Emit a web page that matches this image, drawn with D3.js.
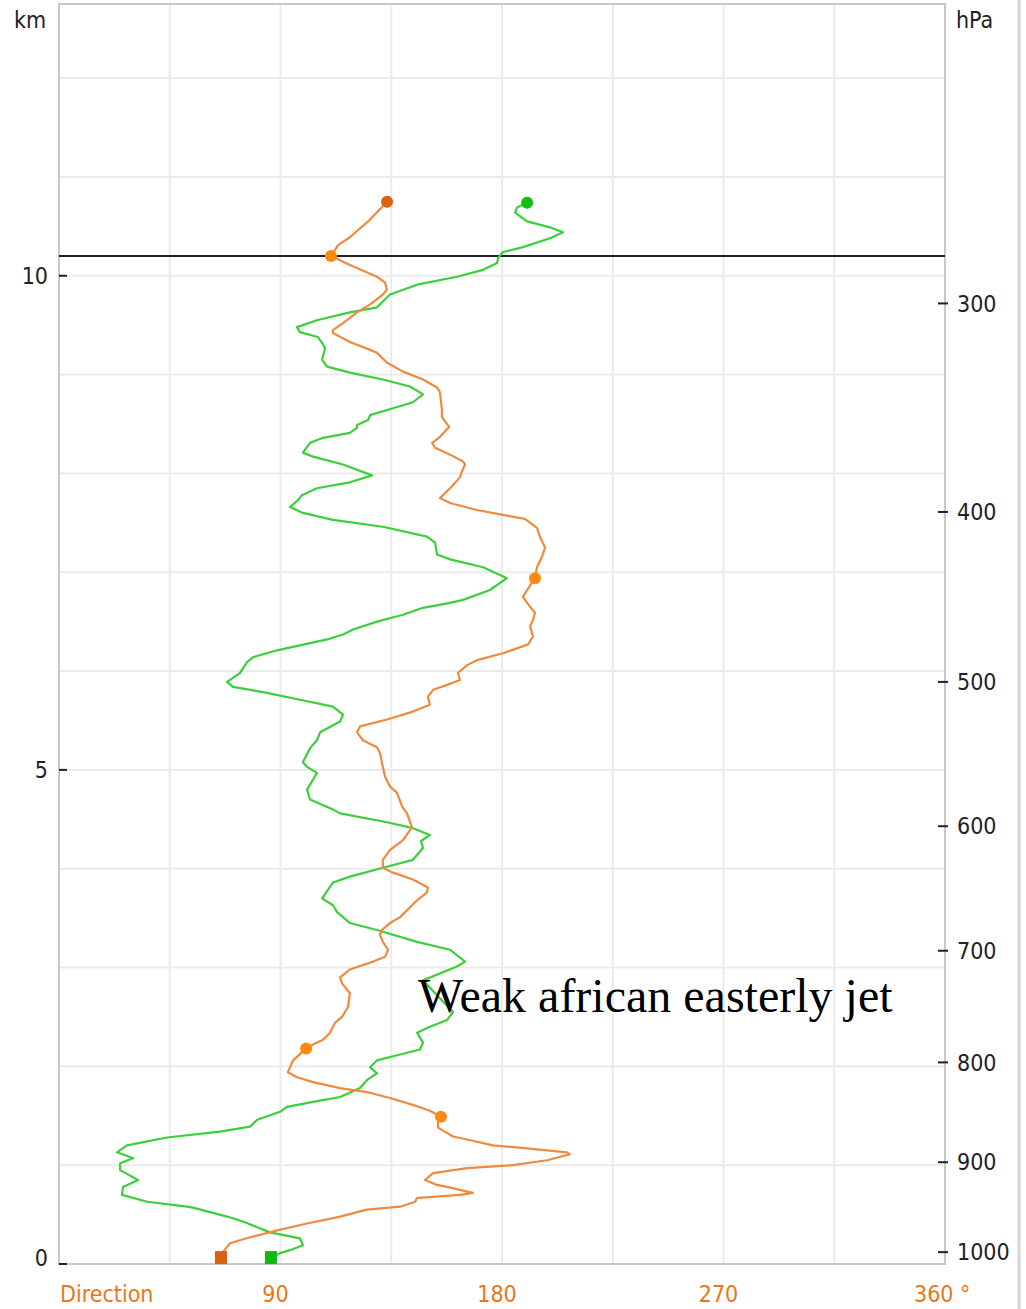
<!DOCTYPE html>
<html>
<head>
<meta charset="utf-8">
<script src="https://cdn.jsdelivr.net/npm/d3@7"></script>
<style>
  body { margin: 0; background: #fff; }
  svg { display: block; }
  .lbl { font-family: "DejaVu Sans Condensed", "DejaVu Sans", sans-serif; font-stretch: condensed; font-size: 23px; fill: #222; }
</style>
</head>
<body>
<svg width="1026" height="1309"></svg>
<script>
/********** Data **********/
// wind direction (deg) against height (km)
var orangeDir = [133.3,125.6,118.2,113.4,110.5,118.2,129.2,132.5,133.2,131.6,126.4,121.1,115.4,111.3,111.3,118.2,126.4,129.2,133.3,139.8,
  147.9,153.6,154.8,155.6,155.6,158.5,154.8,151.6,152.8,158.9,164.2,165.0,163.7,162.9,158.9,154.8,158.9,169.8,180.4,189.3,
  194.2,195.4,197.5,196.3,194.2,193.4,190.2,188.5,190.2,193.4,192.6,191.4,192.6,190.6,180.4,169.8,165.8,162.1,162.9,157.7,
  152.0,149.9,150.7,143.8,133.3,122.3,121.1,123.5,129.2,130.4,131.6,132.5,134.5,137.3,139.4,141.4,143.4,142.6,139.8,134.5,
  131.6,131.6,135.7,143.8,149.9,149.5,145.5,141.4,138.6,134.5,131.2,130.4,131.6,133.7,132.5,127.6,118.2,114.2,115.0,118.2,
  117.4,115.0,112.1,110.1,107.3,103.2,100.4,95.1,93.0,96.7,103.2,114.2,125.1,134.5,143.8,150.7,155.2,154.0,154.0,160.1,
  165.8,176.3,190.2,206.4,207.6,198.3,184.5,165.8,152.0,148.7,153.6,157.7,162.9,168.2,162.9,152.0,145.5,144.7,138.6,125.1,
  114.2,100.8,88.6,77.6,69.5,66.6,65.8];
var orangeKm = [10.75,10.55,10.39,10.31,10.20,10.11,9.99,9.93,9.86,9.81,9.71,9.63,9.52,9.45,9.42,9.33,9.25,9.22,9.12,9.03,
  8.95,8.87,8.82,8.64,8.57,8.47,8.37,8.31,8.26,8.19,8.12,8.09,8.02,7.96,7.85,7.75,7.70,7.63,7.58,7.54,
  7.45,7.36,7.25,7.16,7.05,6.94,6.82,6.75,6.69,6.59,6.52,6.45,6.35,6.27,6.18,6.11,6.06,5.98,5.91,5.86,
  5.81,5.74,5.66,5.59,5.51,5.44,5.38,5.30,5.23,5.17,5.03,4.93,4.83,4.77,4.63,4.56,4.42,4.39,4.29,4.19,
  4.09,4.01,3.96,3.89,3.81,3.76,3.68,3.58,3.51,3.45,3.38,3.33,3.26,3.18,3.11,3.06,2.98,2.90,2.84,2.74,
  2.60,2.50,2.44,2.34,2.27,2.22,2.18,2.06,1.94,1.89,1.84,1.78,1.74,1.68,1.61,1.55,1.49,1.43,1.38,1.29,
  1.26,1.20,1.17,1.13,1.11,1.05,1.00,0.97,0.92,0.85,0.80,0.78,0.75,0.72,0.70,0.68,0.67,0.63,0.58,0.55,
  0.48,0.41,0.34,0.27,0.21,0.12,0.06];

var greenDir = [190.2,186.1,185.3,190.2,199.5,204.8,199.5,188.5,180.4,178.4,178.0,172.3,161.7,145.5,134.5,131.6,129.2,118.2,104.8,96.7,
  97.9,105.2,106.9,108.1,106.9,108.9,118.2,131.6,142.6,147.9,143.8,135.7,126.4,125.6,121.1,121.1,118.2,107.3,102.0,99.1,
  103.2,115.4,127.2,118.2,104.8,98.7,97.1,93.9,99.1,111.3,131.6,149.5,152.8,153.6,158.9,172.3,182.0,175.1,164.2,158.9,
  147.9,139.8,129.2,119.5,115.4,108.9,88.6,78.8,76.4,73.5,68.3,70.7,84.5,97.9,111.3,115.4,114.2,106.1,104.8,102.0,
  99.1,100.8,104.8,103.2,100.8,102.0,111.3,114.2,133.3,143.8,150.7,147.1,147.9,143.8,131.6,118.2,111.3,106.9,111.3,113.0,
  118.2,129.2,145.5,158.9,165.0,161.7,147.9,153.6,160.1,157.7,150.7,145.5,147.9,146.7,138.6,129.2,126.4,129.2,125.1,122.3,
  114.2,103.2,92.6,89.8,80.5,77.6,65.4,43.9,27.6,23.6,30.1,24.8,24.8,32.1,26.0,25.6,35.8,52.0,54.4,68.3,
  74.8,85.7,97.9,99.1,93.9,89.8,87.0,86.1];
var greenKm = [10.74,10.69,10.64,10.55,10.49,10.44,10.38,10.29,10.24,10.18,10.13,10.06,9.99,9.91,9.81,9.74,9.68,9.63,9.55,9.48,
  9.43,9.38,9.32,9.27,9.15,9.08,9.02,8.95,8.88,8.80,8.72,8.66,8.59,8.54,8.49,8.46,8.41,8.36,8.31,8.21,
  8.17,8.09,7.98,7.91,7.85,7.78,7.73,7.66,7.60,7.53,7.46,7.36,7.30,7.18,7.13,7.05,6.94,6.82,6.72,6.69,
  6.64,6.57,6.50,6.42,6.37,6.32,6.21,6.14,6.09,5.98,5.89,5.84,5.78,5.71,5.64,5.56,5.49,5.38,5.30,5.22,
  5.08,5.03,4.97,4.90,4.80,4.70,4.60,4.56,4.47,4.41,4.34,4.28,4.21,4.09,4.01,3.92,3.86,3.70,3.63,3.56,
  3.45,3.38,3.26,3.18,3.06,3.01,2.87,2.72,2.55,2.47,2.40,2.34,2.24,2.17,2.12,2.06,1.99,1.93,1.86,1.78,
  1.69,1.64,1.59,1.54,1.46,1.39,1.34,1.28,1.20,1.13,1.07,1.02,0.95,0.85,0.78,0.70,0.63,0.58,0.57,0.48,
  0.43,0.32,0.26,0.19,0.14,0.11,0.07,0.06];

// highlighted levels on the orange profile (index into orangeKm)
var orangeMarks = [4, 45, 106, 116];

var kmTicks = [0, 5, 10];
var hpaTicks = [300, 400, 500, 600, 700, 800, 900, 1000];
var hpaKm = [9.72, 7.61, 5.89, 4.43, 3.17, 2.04, 1.03, 0.12];
var dirTicks = [90, 180, 270];
var tropopauseKm = 10.20;
var note = "Weak african easterly jet";

/********** Chart **********/
var svg = d3.select("svg"),
    margin = {top: 4, left: 59, right: 81, bottom: 45},
    width = +svg.attr("width") - margin.left - margin.right,
    height = +svg.attr("height") - margin.top - margin.bottom;

var x = d3.scaleLinear().domain([0, 360]).range([margin.left, margin.left + width]);
var y = d3.scaleLinear().domain([0, 12.75]).range([margin.top + height, margin.top]);

// outer window edge
svg.append("line")
    .attr("x1", 1019).attr("x2", 1019).attr("y1", 0).attr("y2", 1309)
    .attr("stroke", "#d4d4d4").attr("stroke-width", 3);

// grid
svg.append("g").selectAll("line")
    .data(d3.range(45, 360, 45))
    .enter().append("line")
    .attr("x1", x).attr("x2", x)
    .attr("y1", y(12.75)).attr("y2", y(0))
    .attr("stroke", "#ebebeb").attr("stroke-width", 2);

svg.append("g").selectAll("line")
    .data(d3.range(1, 13))
    .enter().append("line")
    .attr("x1", x(0)).attr("x2", x(360))
    .attr("y1", y).attr("y2", y)
    .attr("stroke", "#ebebeb").attr("stroke-width", 2);

// frame
svg.append("rect")
    .attr("x", x(0)).attr("y", y(12.75))
    .attr("width", width).attr("height", height)
    .attr("fill", "none").attr("stroke", "#c8c8c8").attr("stroke-width", 2);

// left axis (km)
svg.append("g").selectAll("line")
    .data(kmTicks)
    .enter().append("line")
    .attr("x1", x(0)).attr("x2", x(0) + 8)
    .attr("y1", y).attr("y2", y)
    .attr("stroke", "#222").attr("stroke-width", 2);

svg.append("g").selectAll("text")
    .data(kmTicks)
    .enter().append("text")
    .attr("class", "lbl")
    .attr("x", 48)
    .attr("y", function(d) { return y(d) - (d == 0 ? 6 : 0); })
    .attr("dy", "0.36em")
    .attr("text-anchor", "end")
    .text(function(d) { return d; });

svg.append("text").attr("class", "lbl")
    .attr("x", 14).attr("y", 28).text("km");

// right axis (hPa)
var right = svg.append("g");
right.selectAll("line")
    .data(hpaKm)
    .enter().append("line")
    .attr("x1", x(360) - 7).attr("x2", x(360) + 3)
    .attr("y1", y).attr("y2", y)
    .attr("stroke", "#222").attr("stroke-width", 2);

right.selectAll("text")
    .data(hpaTicks)
    .enter().append("text")
    .attr("class", "lbl")
    .attr("x", 957)
    .attr("y", function(d, i) { return y(hpaKm[i]); })
    .attr("dy", "0.36em")
    .text(function(d) { return d; });

svg.append("text").attr("class", "lbl")
    .attr("x", 956).attr("y", 28).text("hPa");

// bottom axis (direction)
var bottom = svg.append("g").attr("transform", "translate(0,1302)");
bottom.append("text").attr("class", "lbl").style("fill", "#e8771a")
    .attr("x", x(0) + 1).text("Direction");
bottom.selectAll(".dirtick")
    .data(dirTicks)
    .enter().append("text")
    .attr("class", "lbl dirtick").style("fill", "#e8771a")
    .attr("x", function(d) { return x(d) - 5; })
    .attr("text-anchor", "middle")
    .text(function(d) { return d; });
bottom.append("text").attr("class", "lbl").style("fill", "#e8771a")
    .attr("x", x(360) - 31).text("360 °");

// tropopause
svg.append("line")
    .attr("x1", x(0)).attr("x2", x(360))
    .attr("y1", y(tropopauseKm)).attr("y2", y(tropopauseKm))
    .attr("stroke", "#222").attr("stroke-width", 2);

// profiles
var line = d3.line()
    .x(function(d) { return x(d[0]); })
    .y(function(d) { return y(d[1]); });

var orange = d3.zip(orangeDir, orangeKm);
var green = d3.zip(greenDir, greenKm);

svg.append("path").datum(green)
    .attr("d", line)
    .attr("fill", "none").attr("stroke", "#3ccf3c").attr("stroke-width", 2.2)
    .attr("stroke-linejoin", "round");

svg.append("path").datum(orange)
    .attr("d", line)
    .attr("fill", "none").attr("stroke", "#ef8a3e").attr("stroke-width", 2.2)
    .attr("stroke-linejoin", "round");

// markers
svg.append("g").selectAll("circle")
    .data(orangeMarks)
    .enter().append("circle")
    .attr("cx", function(i) { return x(orangeDir[i]); })
    .attr("cy", function(i) { return y(orangeKm[i]); })
    .attr("r", 6)
    .attr("fill", "#ff8a10");

svg.append("circle")
    .attr("cx", x(orangeDir[0])).attr("cy", y(orangeKm[0]))
    .attr("r", 6).attr("fill", "#dc620c");

svg.append("circle")
    .attr("cx", x(greenDir[0])).attr("cy", y(greenKm[0]))
    .attr("r", 6).attr("fill", "#10c010");

var lastO = orange.length - 1, lastG = green.length - 1;
svg.append("rect")
    .attr("x", x(orangeDir[lastO]) - 6).attr("y", y(orangeKm[lastO]) - 7)
    .attr("width", 12).attr("height", 13)
    .attr("fill", "#d9600c");
svg.append("rect")
    .attr("x", x(greenDir[lastG]) - 6).attr("y", y(greenKm[lastG]) - 7)
    .attr("width", 12).attr("height", 13)
    .attr("fill", "#10b810");

// annotation
svg.append("text")
    .attr("x", 418).attr("y", 1012)
    .style("font-family", "'Liberation Serif', 'Times New Roman', serif")
    .style("font-size", "48px")
    .style("fill", "#000")
    .text(note);
</script>
</body>
</html>
